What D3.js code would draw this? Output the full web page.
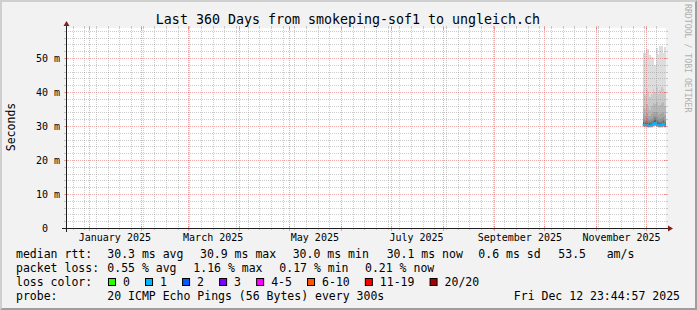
<!DOCTYPE html>
<html><head><meta charset="utf-8">
<script src="https://cdn.jsdelivr.net/npm/d3@7/dist/d3.min.js"></script>
<style>
html,body{margin:0;padding:0;background:#f2f2f2;}
svg{display:block;}
text{font-family:"DejaVu Sans Mono",monospace;white-space:pre;fill:#000;}
</style></head><body>
<svg id="c" width="697" height="310"></svg>
<script>
// ---------------- data ----------------
const title = "Last 360 Days from smokeping-sof1 to ungleich.ch";
const yAxisTitle = "Seconds";
const watermark = "RRDTOOL / TOBI OETIKER";
const rangeStart = "2024-12-17T23:44:57Z";
const rangeEnd = "2025-12-12T23:44:57Z";
const yMaxMs = 58.82;
const yTickValues = [0, 10, 20, 30, 40, 50];
const yTickLabels = ["0  ", "10 m", "20 m", "30 m", "40 m", "50 m"];
const xLabelMonths = ["2025-01-01","2025-03-01","2025-05-01","2025-07-01","2025-09-01","2025-11-01"];
const xTickLabels = ["January 2025","March 2025","May 2025","July 2025","September 2025","November 2025"];

const days = ["2025-11-29","2025-11-30","2025-12-01","2025-12-02","2025-12-03","2025-12-04","2025-12-05",
              "2025-12-06","2025-12-07","2025-12-08","2025-12-09","2025-12-10","2025-12-11","2025-12-12"];
const medianMs = [30.4, 30.2, 30.3, 30.0, 30.1, 30.2, 30.5, 30.9, 30.4, 30.2, 30.1, 30.3, 30.6, 30.1];
const lossClass = [1,1,1,1,1,1,1,1,1,1,1,1,1,1];
// 20 sorted ping values per day (ms)
const pingsMs = [
 [29.6,29.8,29.9,30.0,30.1,30.2,30.25,30.3,30.35,30.4, 30.45,30.6,30.8,31.1,31.5,32.2,33.5,36.0,40.5,51.5],
 [29.5,29.7,29.8,29.9,29.95,30.0,30.05,30.1,30.15,30.2, 30.3,30.4,30.6,30.9,31.3,31.9,33.0,35.0,39.0,51.5],
 [29.5,29.7,29.8,29.9,30.0,30.1,30.15,30.2,30.25,30.3, 30.35,30.5,30.7,31.0,31.5,32.3,33.8,36.5,41.0,52.6],
 [29.4,29.5,29.6,29.7,29.75,29.8,29.85,29.9,29.95,30.0, 30.05,30.2,30.4,30.7,31.1,31.8,33.0,35.5,40.0,52.6],
 [29.4,29.6,29.7,29.8,29.85,29.9,29.95,30.0,30.05,30.1, 30.2,30.3,30.5,30.8,31.2,31.8,32.8,34.8,38.5,51.0],
 [29.5,29.7,29.8,29.9,30.0,30.05,30.1,30.15,30.2,30.2, 30.3,30.4,30.6,30.9,31.4,32.1,33.4,35.8,39.5,50.4],
 [29.7,29.9,30.0,30.1,30.2,30.3,30.35,30.4,30.45,30.5, 30.6,30.8,31.0,31.3,31.8,32.6,34.0,36.8,41.0,50.0],
 [29.9,30.1,30.3,30.4,30.5,30.6,30.7,30.8,30.85,30.9, 31.0,31.2,31.4,31.8,32.3,33.0,34.2,36.5,40.0,47.8],
 [29.6,29.8,29.9,30.0,30.1,30.2,30.25,30.3,30.35,30.4, 30.5,30.6,30.8,31.2,31.7,32.5,34.0,37.0,41.5,52.8],
 [29.5,29.7,29.8,29.9,30.0,30.05,30.1,30.15,30.2,30.2, 30.3,30.4,30.6,30.9,31.4,32.0,33.2,35.5,39.5,51.2],
 [29.4,29.6,29.7,29.8,29.9,29.95,30.0,30.05,30.1,30.1, 30.2,30.3,30.5,30.8,31.3,32.0,33.5,36.2,40.5,53.6],
 [29.5,29.7,29.8,29.9,30.0,30.1,30.15,30.2,30.25,30.3, 30.4,30.5,30.7,31.0,31.5,32.3,33.8,36.8,41.5,53.6],
 [29.8,30.0,30.1,30.2,30.3,30.4,30.45,30.5,30.55,30.6, 30.7,30.8,31.0,31.4,31.9,32.7,34.2,37.0,41.0,51.5],
 [29.5,29.6,29.7,29.8,29.9,29.95,30.0,30.05,30.1,30.1, 30.2,30.3,30.5,30.8,31.2,31.9,33.2,35.8,40.0,53.3]
];

const lossColors = ["#26ff00","#00b8ff","#0059ff","#7e00ff","#ff00ff","#ff5500","#ff0000","#a10000"];
const lossLabels = ["0","1","2","3","4-5","6-10","11-19","20/20"];

const rttLabel = "median rtt:";
const rttItems = ["30.3 ms avg","30.9 ms max","30.0 ms min","30.1 ms now","0.6 ms sd","53.5","am/s"];
const lossLabel = "packet loss:";
const lossItems = ["0.55 % avg","1.16 % max","0.17 % min","0.21 % now"];
const lossColorLabel = "loss color:";
const probeLabel = "probe:";
const probeText = "20 ICMP Echo Pings (56 Bytes) every 300s";
const stampText = "Fri Dec 12 23:44:57 2025";

// ---------------- layout ----------------
const W = 697, H = 310;
const X0 = 66, X1 = 666, Y0 = 228, Y1 = 28;
const svg = d3.select("#c");

const x = d3.scaleUtc().domain([new Date(rangeStart), new Date(rangeEnd)]).range([X0, X1]);
const y = d3.scaleLinear().domain([0, yMaxMs]).range([Y0, Y1]);

// background & 3d frame
svg.append("rect").attr("width", W).attr("height", H).attr("fill", "#f2f2f2");
svg.append("path").attr("d", `M0,${H} L2,${H-2} L2,2 L${W-2},2 L${W},0 L0,0 Z`).attr("fill", "#cfcfcf");
svg.append("path").attr("d", `M2,${H-2} L${W-2},${H-2} L${W-2},2 L${W},0 L${W},${H} L0,${H} Z`).attr("fill", "#9e9e9e");

// canvas
svg.append("rect").attr("x", X0).attr("y", Y1).attr("width", X1 - X0).attr("height", Y0 - Y1).attr("fill", "#ffffff");

// smoke
const end = new Date(rangeEnd);
const pts = days.map((d, i) => ({t: new Date(d + "T00:00:00Z"), p: pingsMs[i], m: medianMs[i], l: lossClass[i]}));
const ptsExt = pts.concat([{t: end, p: pingsMs[pingsMs.length-1], m: medianMs[medianMs.length-1], l: lossClass[lossClass.length-1]}]);
const half = 10;
for (let i = 0; i < half; i++) {
  const g = Math.floor(190 / half * (half - (i + 1))) + 50;
  const area = d3.area().curve(d3.curveStepAfter)
    .x(d => x(d.t)).y0(d => y(d.p[i])).y1(d => y(d.p[19 - i]));
  svg.append("path").datum(ptsExt).attr("d", area).attr("fill", d3.rgb(g, g, g)).attr("shape-rendering", "crispEdges");
}

// median line, coloured by loss class
const line = d3.line().curve(d3.curveStepAfter).x(d => x(d.t)).y(d => y(d.m));
for (let c = 0; c < lossColors.length; c++) {
  const seg = ptsExt.filter(d => d.l === c);
  if (!seg.length) continue;
  svg.append("path").datum(seg).attr("d", line).attr("fill", "none")
    .attr("stroke", lossColors[c]).attr("stroke-width", 2);
}

// grid (drawn on top, like rrdtool)
const gridCol = "rgba(143,143,143,0.45)";
const mgridCol = "rgba(222,79,79,0.48)";
const grid = svg.append("g").attr("shape-rendering", "crispEdges");
const hv = d3.range(0, yMaxMs, 2);
hv.forEach(v => {
  const yy = Math.round(y(v)) + 0.5;
  const major = Math.abs(v % 10) < 1e-9;
  const col = major ? mgridCol : gridCol;
  if (v !== 0) grid.append("line").attr("x1", X0).attr("x2", X1).attr("y1", yy).attr("y2", yy)
      .attr("stroke", col).attr("stroke-dasharray", "1,1");
  grid.append("line").attr("x1", X0 - 2).attr("x2", major ? X0 + 2 : X0).attr("y1", yy).attr("y2", yy).attr("stroke", col);
  grid.append("line").attr("x1", major ? X1 - 2 : X1).attr("x2", X1 + 2).attr("y1", yy).attr("y2", yy).attr("stroke", col);
});
const weeks = d3.utcSunday.range(x.domain()[0], x.domain()[1]);
const months = d3.utcMonth.range(x.domain()[0], x.domain()[1]);
const monthSet = new Set(months.map(m => +m));
weeks.filter(w => !monthSet.has(+w)).forEach(w => {
  const xx = Math.round(x(w)) + 0.5;
  grid.append("line").attr("x1", xx).attr("x2", xx).attr("y1", Y1).attr("y2", Y0)
    .attr("stroke", gridCol).attr("stroke-dasharray", "1,1");
  grid.append("line").attr("x1", xx).attr("x2", xx).attr("y1", Y1 - 2).attr("y2", Y1).attr("stroke", gridCol);
  grid.append("line").attr("x1", xx).attr("x2", xx).attr("y1", Y0).attr("y2", Y0 + 2).attr("stroke", gridCol);
});
months.forEach(m => {
  const xx = Math.round(x(m)) + 0.5;
  grid.append("line").attr("x1", xx).attr("x2", xx).attr("y1", Y1).attr("y2", Y0)
    .attr("stroke", mgridCol).attr("stroke-dasharray", "1,1");
  grid.append("line").attr("x1", xx).attr("x2", xx).attr("y1", Y1 - 2).attr("y2", Y1 + 2).attr("stroke", mgridCol);
  grid.append("line").attr("x1", xx).attr("x2", xx).attr("y1", Y0 - 2).attr("y2", Y0 + 3).attr("stroke", mgridCol);
});

// axes lines & arrows
const axCol = "#1f1f1f", arrowCol = "#801f1f";
svg.append("line").attr("x1", X0 - 4).attr("x2", X1 + 4).attr("y1", Y0 + 0.5).attr("y2", Y0 + 0.5)
  .attr("stroke", axCol).attr("shape-rendering", "crispEdges");
svg.append("line").attr("x1", X0 + 0.5).attr("x2", X0 + 0.5).attr("y1", Y0 + 4).attr("y2", Y1 - 4)
  .attr("stroke", axCol).attr("shape-rendering", "crispEdges");
svg.append("path").attr("d", `M${X1+2},${Y0-2.5} L${X1+2},${Y0+3.5} L${X1+7},${Y0+0.5} Z`).attr("fill", arrowCol);
svg.append("path").attr("d", `M${X0-2.5},${Y1-2} L${X0+3.5},${Y1-2} L${X0+0.5},${Y1-7} Z`).attr("fill", arrowCol);

// axis labels via d3 axes
const yAxis = d3.axisLeft(y).tickValues(yTickValues).tickFormat((d, i) => yTickLabels[i]).tickSize(0).tickPadding(6);
const gy = svg.append("g").attr("transform", `translate(${X0},0)`).call(yAxis);
gy.select(".domain").remove();
gy.selectAll("text").attr("font-family", "DejaVu Sans Mono").attr("font-size", 10).attr("fill", "#000");

const labelCenters = xLabelMonths.map(s => d3.utcDay.offset(new Date(s + "T00:00:00Z"), 15));
const xAxis = d3.axisBottom(x).tickValues(labelCenters).tickFormat((d, i) => xTickLabels[i]).tickSize(0).tickPadding(6);
const gx = svg.append("g").attr("transform", `translate(0,${Y0})`).call(xAxis);
gx.select(".domain").remove();
gx.selectAll("text").attr("font-family", "DejaVu Sans Mono").attr("font-size", 10).attr("fill", "#000");

// title, y title, watermark
svg.append("text").attr("x", 348).attr("y", 24).attr("text-anchor", "middle").attr("font-size", 13.3).text(title);
svg.append("text").attr("transform", "translate(14.5,127) rotate(-90)").attr("text-anchor", "middle")
  .attr("font-size", 11.5).text(yAxisTitle);
svg.append("text").attr("transform", "translate(684.5,4) rotate(90)").attr("font-size", 8.2)
  .style("fill", "#b0b0b0").text(watermark);

// legend
const LF = 11.5;
const rows = [257.5, 271.5, 285.5, 299.5];
const leg = svg.append("g").attr("font-size", LF);
leg.append("text").attr("x", 16).attr("y", rows[0]).text(rttLabel);
const rttX = [107.3, 200, 292.7, 386.7, 478.3, 558.3, 606.7];
rttItems.forEach((t, i) => leg.append("text").attr("x", rttX[i]).attr("y", rows[0]).text(t));
leg.append("text").attr("x", 16).attr("y", rows[1]).text(lossLabel);
const lossX = [107.3, 193.3, 279.3, 365];
lossItems.forEach((t, i) => leg.append("text").attr("x", lossX[i]).attr("y", rows[1]).text(t));
leg.append("text").attr("x", 16).attr("y", rows[2]).text(lossColorLabel);
let bx = 108.5;
lossLabels.forEach((t, i) => {
  leg.append("rect").attr("x", bx).attr("y", rows[2] - 7).attr("width", 7).attr("height", 7)
    .attr("fill", lossColors[i]).attr("stroke", "#000").attr("stroke-width", 1);
  const tx = leg.append("text").attr("x", bx + 14.5).attr("y", rows[2]).text(t);
  const w = tx.node().getComputedTextLength();
  bx = bx + 14.5 + w + 15.6;
});
leg.append("text").attr("x", 16).attr("y", rows[3]).text(probeLabel);
leg.append("text").attr("x", 107.3).attr("y", rows[3]).text(probeText);
leg.append("text").attr("x", 680).attr("y", rows[3]).attr("text-anchor", "end").text(stampText);
</script>
</body></html>
